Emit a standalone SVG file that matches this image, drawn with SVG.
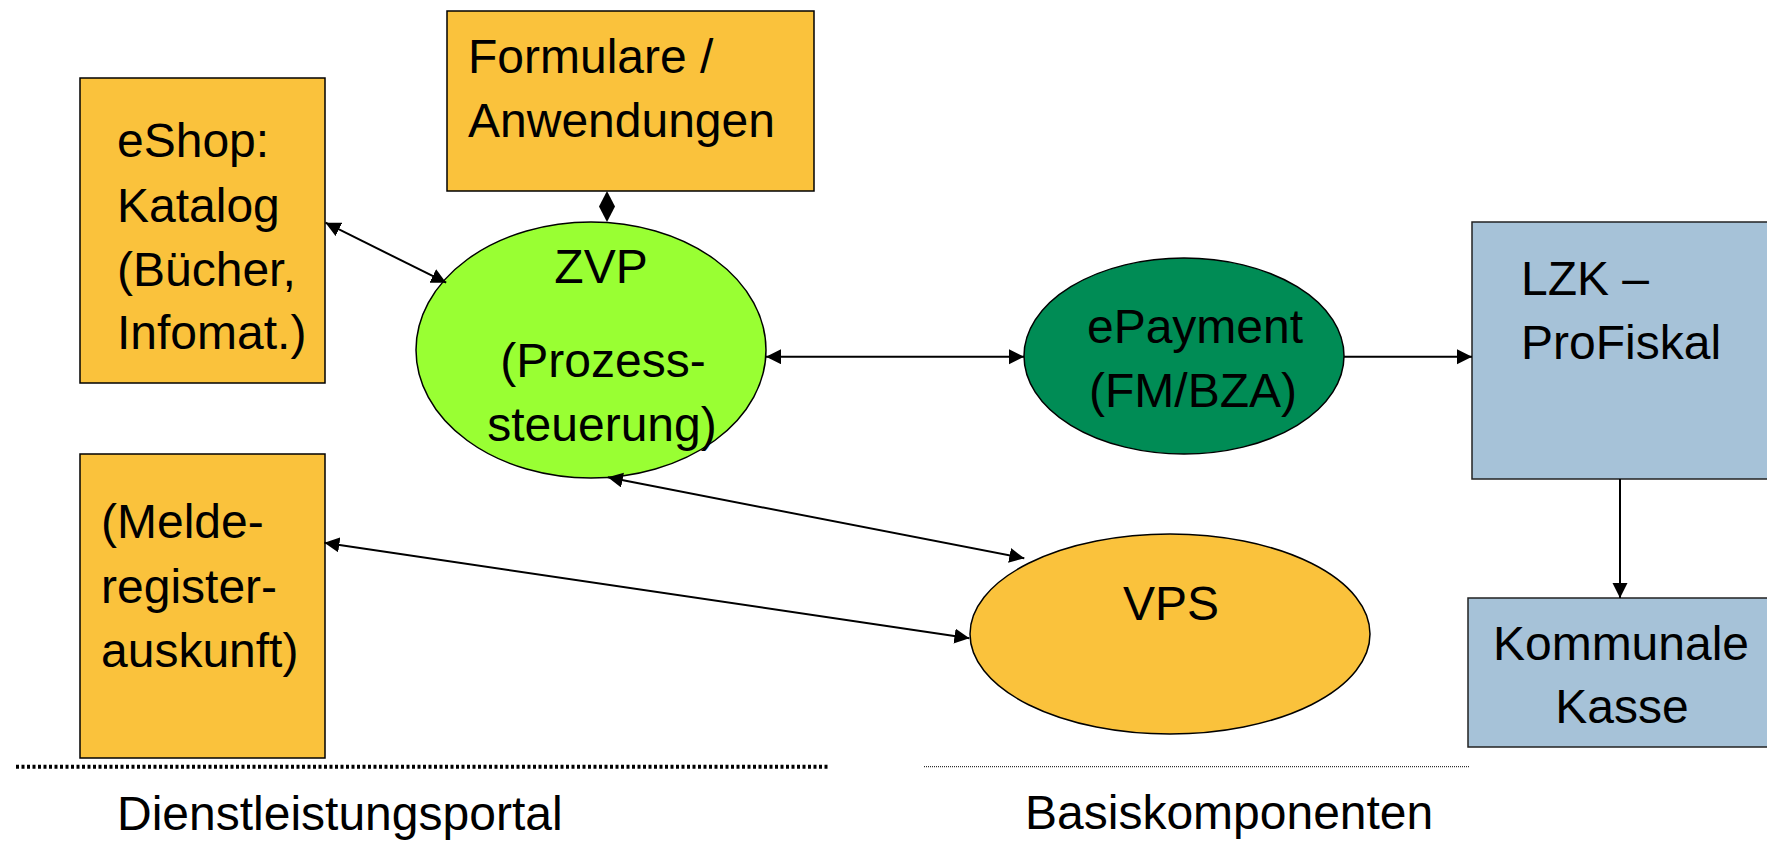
<svg xmlns="http://www.w3.org/2000/svg" width="1767" height="842" viewBox="0 0 1767 842">
<style>
text{font-family:"Liberation Sans",Arial,sans-serif;font-size:48px;fill:#000}
.orange{fill:#FAC23C;stroke:#000;stroke-width:1.5}
.blue{fill:#A6C2D8;stroke:#222;stroke-width:1.5}
.mid{text-anchor:middle}
.con{stroke:#000;fill:none;stroke-width:2}
</style>
<defs>
<marker id="ah" markerUnits="userSpaceOnUse" markerWidth="16" markerHeight="16" viewBox="0 0 16 16" refX="15" refY="7.5" orient="auto-start-reverse">
<path d="M0,0 L15,7.5 L0,15 z" fill="#000"/>
</marker>
</defs>
<rect width="1767" height="842" fill="#fff"/>

<g id="formulare">
<rect class="orange" x="447" y="11" width="367" height="180"/>
<text x="468" y="73">Formulare /</text>
<text x="468" y="137">Anwendungen</text>
</g>

<g id="eshop">
<rect class="orange" x="80" y="78" width="245" height="305"/>
<text x="117" y="157">eShop:</text>
<text x="117" y="222">Katalog</text>
<text x="117" y="286">(Bücher,</text>
<text x="117" y="349">Infomat.)</text>
</g>

<g id="zvp">
<ellipse cx="591" cy="350" rx="175" ry="128" fill="#99FF33" stroke="#000" stroke-width="1.5"/>
<text class="mid" x="601" y="283">ZVP</text>
<text class="mid" x="603" y="377">(Prozess-</text>
<text class="mid" x="602" y="441">steuerung)</text>
</g>

<g id="epayment">
<ellipse cx="1184" cy="356" rx="160" ry="98" fill="#008C55" stroke="#000" stroke-width="1.5"/>
<text class="mid" x="1195" y="343">ePayment</text>
<text class="mid" x="1193" y="407">(FM/BZA)</text>
</g>

<g id="lzk">
<rect class="blue" x="1472" y="222" width="300" height="257"/>
<text x="1521" y="295">LZK –</text>
<text x="1521" y="359">ProFiskal</text>
</g>

<g id="kommunale">
<rect class="blue" x="1468" y="598" width="304" height="149"/>
<text class="mid" x="1621" y="660">Kommunale</text>
<text class="mid" x="1622" y="723">Kasse</text>
</g>

<g id="melde">
<rect class="orange" x="80" y="454" width="245" height="304"/>
<text x="101" y="538">(Melde-</text>
<text x="101" y="603">register-</text>
<text x="101" y="667">auskunft)</text>
</g>

<g id="vps">
<ellipse cx="1170" cy="634" rx="200" ry="100" fill="#FAC23C" stroke="#000" stroke-width="1.5"/>
<text class="mid" x="1171" y="620">VPS</text>
</g>

<g id="connectors">
<polygon points="607,191 615,206.5 607,222 599,206.5" fill="#000"/>
<line class="con" x1="325.5" y1="222.7" x2="446.2" y2="282.7" marker-start="url(#ah)" marker-end="url(#ah)"/>
<line class="con" x1="766" y1="356.7" x2="1024" y2="356.7" stroke-width="3" marker-start="url(#ah)" marker-end="url(#ah)"/>
<line class="con" x1="1344" y1="356.7" x2="1472" y2="356.7" marker-end="url(#ah)"/>
<line class="con" x1="1620" y1="479" x2="1620" y2="598" stroke-width="1.8" marker-end="url(#ah)"/>
<line class="con" x1="607.8" y1="477.3" x2="1024.3" y2="558.3" marker-start="url(#ah)" marker-end="url(#ah)"/>
<line class="con" x1="324.4" y1="542.7" x2="969.4" y2="638.3" marker-start="url(#ah)" marker-end="url(#ah)"/>
</g>

<g id="separators">
<line x1="16" y1="766.7" x2="828" y2="766.7" stroke="#000" stroke-width="4" stroke-dasharray="3 2.5"/>
<line x1="924" y1="766.7" x2="1470" y2="766.7" stroke="#000" stroke-width="1" stroke-dasharray="1 1"/>
<text x="117" y="830">Dienstleistungsportal</text>
<text x="1025" y="829">Basiskomponenten</text>
</g>
</svg>
